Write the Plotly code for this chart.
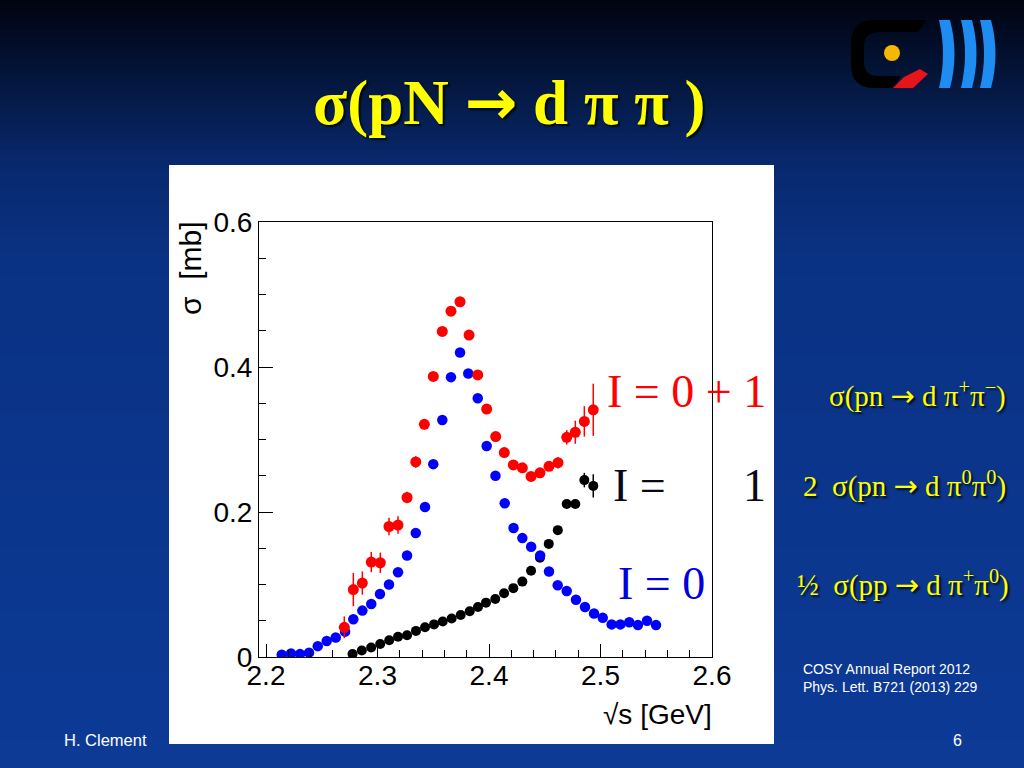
import plotly.graph_objects as go

W, H = 1024, 768

# ---------------- data ----------------
blue_x = [2.2141, 2.2224, 2.2305, 2.2386, 2.2464, 2.2544, 2.2625, 2.2709, 2.2783, 2.2864,
          2.2944, 2.3022, 2.3103, 2.3184, 2.3265, 2.3343, 2.3426, 2.3500, 2.3581, 2.3659,
          2.3740, 2.3814, 2.3899, 2.3979, 2.4058, 2.4141, 2.4220, 2.4299, 2.4378, 2.4459,
          2.4538, 2.4616, 2.4697, 2.4780, 2.4861, 2.4942, 2.5020, 2.5100, 2.5178, 2.5258,
          2.5336, 2.5417, 2.5498]
blue_y = [0.003, 0.005, 0.004, 0.006, 0.015, 0.022, 0.027, 0.035, 0.052, 0.064,
          0.073, 0.087, 0.100, 0.117, 0.140, 0.171, 0.207, 0.266, 0.327, 0.386,
          0.420, 0.391, 0.357, 0.291, 0.250, 0.212, 0.178, 0.164, 0.152, 0.140,
          0.118, 0.099, 0.091, 0.079, 0.069, 0.060, 0.054, 0.045, 0.045, 0.048,
          0.044, 0.050, 0.044]

red_x = [2.2702, 2.2783, 2.2864, 2.2944, 2.3025, 2.3103, 2.3184, 2.3265, 2.3343, 2.3420,
         2.3500, 2.3581, 2.3659, 2.3740, 2.3821, 2.3899, 2.3979, 2.4060, 2.4137, 2.4218,
         2.4299, 2.4377, 2.4457, 2.4538, 2.4619, 2.4697, 2.4774, 2.4855, 2.4935]
red_y = [0.041, 0.093, 0.102, 0.131, 0.130, 0.180, 0.182, 0.220, 0.269, 0.321,
         0.387, 0.449, 0.477, 0.490, 0.444, 0.389, 0.342, 0.304, 0.282, 0.265,
         0.261, 0.249, 0.254, 0.263, 0.268, 0.303, 0.310, 0.325, 0.341]
red_err = [0.015, 0.023, 0.016, 0.014, 0.014, 0.012, 0.012, 0.008, 0.008, 0.007,
           0.006, 0.006, 0.006, 0.006, 0.006, 0.006, 0.006, 0.006, 0.006, 0.006,
           0.006, 0.006, 0.006, 0.006, 0.008, 0.010, 0.016, 0.021, 0.036]

black_x = [2.2776, 2.2859, 2.2943, 2.3024, 2.3105, 2.3184, 2.3265, 2.3345, 2.3426, 2.3507,
           2.3585, 2.3665, 2.3746, 2.3827, 2.3901, 2.3973, 2.4056, 2.4135, 2.4218, 2.4299,
           2.4377, 2.4457, 2.4536, 2.4617, 2.4697, 2.4774, 2.4855, 2.4935]
black_y = [0.004, 0.009, 0.013, 0.018, 0.023, 0.028, 0.030, 0.036, 0.041, 0.045,
           0.049, 0.053, 0.058, 0.063, 0.069, 0.075, 0.080, 0.088, 0.095, 0.104,
           0.119, 0.137, 0.156, 0.175, 0.211, 0.211, 0.244, 0.236]
black_err = [0.003, 0.003, 0.003, 0.003, 0.003, 0.003, 0.003, 0.003, 0.003, 0.003,
             0.003, 0.003, 0.003, 0.003, 0.003, 0.003, 0.003, 0.003, 0.003, 0.003,
             0.003, 0.003, 0.004, 0.005, 0.006, 0.006, 0.010, 0.016]

x_tickvals = [2.2, 2.3, 2.4, 2.5, 2.6]
x_ticktext = ["2.2", "2.3", "2.4", "2.5", "2.6"]
y_tickvals = [0, 0.2, 0.4, 0.6]
y_ticktext = ["0", "0.2", "0.4", "0.6"]


# ---------------- helpers (pixel -> paper) ----------------
def px(x):
    return x / W


def py(y):
    return 1 - y / H


def path(cmds):
    out = []
    for c in cmds:
        if isinstance(c, str):
            out.append(c)
        else:
            out.append(f"{px(c[0]):.5f},{py(c[1]):.5f}")
    return " ".join(out)


shapes = []

# background gradient (slide)
stops = [(0, (0, 4, 14)), (40, (2, 12, 38)), (100, (5, 27, 72)), (160, (8, 40, 108)),
         (260, (10, 50, 132)), (768, (12, 58, 150))]


def col_at(y):
    for (y0, c0), (y1, c1) in zip(stops[:-1], stops[1:]):
        if y0 <= y <= y1:
            t = (y - y0) / (y1 - y0)
            return tuple(int(round(a + (b - a) * t)) for a, b in zip(c0, c1))
    return stops[-1][1]


band = 6
for y0 in range(0, H, band):
    c = col_at(y0 + band / 2)
    shapes.append(dict(type="rect", xref="paper", yref="paper", layer="below",
                       x0=0, x1=1, y0=py(y0 + band + 0.5), y1=py(y0),
                       fillcolor=f"rgb{c}", line=dict(width=0)))

# white chart panel
shapes.append(dict(type="rect", xref="paper", yref="paper", layer="below",
                   x0=px(169), x1=px(774), y0=py(744), y1=py(165),
                   fillcolor="white", line=dict(width=0)))

# COSY logo
shapes.append(dict(type="path", xref="paper", yref="paper", layer="above",
                   path=path(["M", (926, 20), "L", (874, 20), "Q", (851, 20), (851, 44),
                              "L", (851, 64), "Q", (851, 88), (874, 88), "L", (893, 88),
                              "L", (901, 76), "L", (879, 76), "Q", (864, 76), (864, 62),
                              "L", (864, 46), "Q", (864, 32), (879, 32), "L", (918, 32), "Z"]),
                   fillcolor="black", line=dict(width=0)))
shapes.append(dict(type="circle", xref="paper", yref="paper", layer="above",
                   x0=px(884), x1=px(900), y0=py(61), y1=py(45),
                   fillcolor="#f5b800", line=dict(width=0)))
shapes.append(dict(type="path", xref="paper", yref="paper", layer="above",
                   path=path(["M", (893, 88), "L", (913, 88), "L", (928, 74), "L", (920, 69),
                              "L", (904, 77), "Z"]),
                   fillcolor="#e8141c", line=dict(width=0)))
for x0 in (939, 961, 980):
    shapes.append(dict(type="path", xref="paper", yref="paper", layer="above",
                       path=path(["M", (x0, 20), "L", (x0 + 11, 20), "Q", (x0 + 20, 54), (x0 + 11, 88),
                                  "L", (x0, 88), "Q", (x0 + 8, 54), (x0, 20), "Z"]),
                       fillcolor="#1e8cf0", line=dict(width=0)))

# ---------------- figure ----------------
fig = go.Figure()

fig.add_trace(go.Scatter(
    x=black_x, y=black_y, mode="markers",
    marker=dict(color="black", size=10),
    error_y=dict(type="data", array=black_err, color="black", thickness=1.5, width=0),
    showlegend=False))
fig.add_trace(go.Scatter(
    x=blue_x, y=blue_y, mode="markers",
    marker=dict(color="#0000ff", size=10.5),
    showlegend=False))
fig.add_trace(go.Scatter(
    x=red_x, y=red_y, mode="markers",
    marker=dict(color="#ff0000", size=11),
    error_y=dict(type="data", array=red_err, color="#ff0000", thickness=1.5, width=0),
    showlegend=False))

axis_font = dict(family="Liberation Sans, Arial, sans-serif", size=28, color="black")

fig.update_xaxes(
    domain=[px(259), px(712)], range=[2.1937, 2.6], autorange=False,
    tickvals=x_tickvals, ticktext=x_ticktext, ticks="inside", ticklen=13,
    tickwidth=1, tickcolor="black", tickfont=axis_font, ticklabelstandoff=-7,
    minor=dict(dtick=0.02, tick0=2.2, ticks="inside", ticklen=7, tickcolor="black", tickwidth=1),
    showline=True, linecolor="black", linewidth=1, mirror=True,
    showgrid=False, zeroline=False, automargin=False)
fig.update_yaxes(
    domain=[py(657), py(222)], range=[0, 0.6], autorange=False,
    tickvals=y_tickvals, ticktext=y_ticktext, ticks="inside", ticklen=14,
    tickwidth=1, tickcolor="black", tickfont=axis_font,
    minor=dict(dtick=0.05, tick0=0, ticks="inside", ticklen=7, tickcolor="black", tickwidth=1),
    showline=True, linecolor="black", linewidth=1, mirror=True,
    showgrid=False, zeroline=False, automargin=False)

serif = "Liberation Serif, Times New Roman, serif"
sans = "Liberation Sans, Arial, sans-serif"
yellow = "#ffff00"
shadow = "2px 2px 2px rgba(0,0,0,0.8)"
ARROW = "<span style='font-family:DejaVu Sans'>→</span>"


def ann(text, x, y, size, color, family, xanchor="center", yanchor="middle", angle=0, shadow_=None, weight="normal"):
    f = dict(family=family, size=size, color=color, weight=weight)
    if shadow_:
        f["shadow"] = shadow_
    return dict(text=text, x=px(x), y=py(y), xref="paper", yref="paper", showarrow=False,
                xanchor=xanchor, yanchor=yanchor, textangle=angle, font=f)


annotations = [
    ann(f"σ(pN {ARROW} d π π )", 509, 102, 63, yellow, serif, weight="bold", shadow_=shadow),
    ann("σ\u00a0 [mb]", 191, 268, 30, "black", sans, angle=-90),
    ann("√s [GeV]", 714, 714, 28, "black", sans, xanchor="right"),
    ann("I = 0 + 1", 768, 391, 46, "#ff0000", serif, xanchor="right"),
    ann("I =", 611, 485, 46, "#080818", serif, xanchor="left"),
    ann("1", 768, 485, 46, "#080818", serif, xanchor="right"),
    ann("I = 0", 707, 583, 46, "#0000dd", serif, xanchor="right"),
    ann(f"σ(pn {ARROW} d π<sup>+</sup>π<sup>−</sup>)", 1008, 394, 29, yellow, serif, xanchor="right", shadow_=shadow),
    ann(f"2\u00a0\u00a0σ(pn {ARROW} d π<sup>0</sup>π<sup>0</sup>)", 1008, 484, 29, yellow, serif, xanchor="right", shadow_=shadow),
    ann(f"½\u00a0\u00a0σ(pp {ARROW} d π<sup>+</sup>π<sup>0</sup>)", 1011, 583, 29, yellow, serif, xanchor="right", shadow_=shadow),
    ann("COSY Annual Report 2012", 801, 669, 14, "white", sans, xanchor="left"),
    ann("Phys. Lett. B721 (2013) 229", 801, 687, 14, "white", sans, xanchor="left"),
    ann("H. Clement", 62, 740, 16.5, "white", sans, xanchor="left"),
    ann("6", 957, 740, 16, "white", sans),
]

fig.update_layout(
    width=W, height=H, autosize=False,
    margin=dict(l=0, r=0, t=0, b=0, pad=0),
    paper_bgcolor="rgb(10,45,120)", plot_bgcolor="white",
    shapes=shapes, annotations=annotations, showlegend=False,
)

fig.write_html("out.html", config={"displayModeBar": False},
               post_script="document.body.style.margin='0';document.body.style.overflow='hidden';")
